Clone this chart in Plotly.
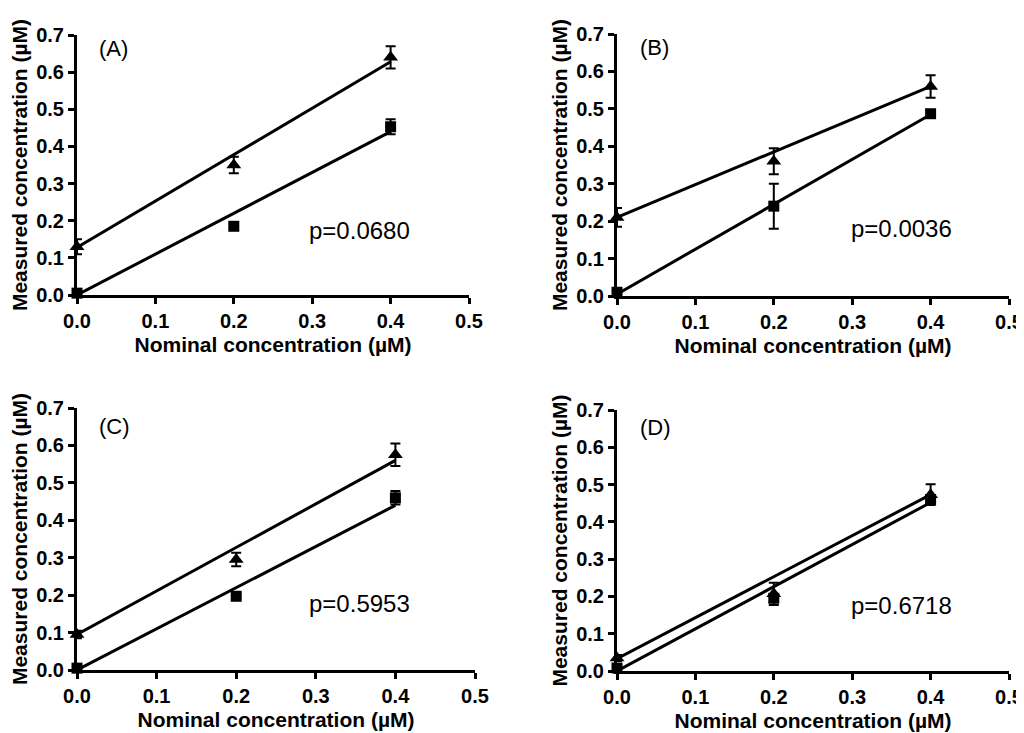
import plotly.graph_objects as go

# Nominal concentrations (µM)
nominal = [0.0, 0.2, 0.4]

panels = ["(A)", "(B)", "(C)", "(D)"]
p_values = ["p=0.0680", "p=0.0036", "p=0.5953", "p=0.6718"]

# triangles (upper series): mean and error
tri_mean = [
    [0.13, 0.35, 0.64],
    [0.21, 0.36, 0.56],
    [0.095, 0.295, 0.575],
    [0.035, 0.207, 0.473],
]
tri_err = [
    [0.02, 0.022, 0.03],
    [0.025, 0.035, 0.03],
    [0.01, 0.018, 0.03],
    [0.008, 0.03, 0.028],
]

# squares (lower series): mean and error
sq_mean = [
    [0.005, 0.185, 0.453],
    [0.01, 0.24, 0.487],
    [0.005, 0.197, 0.46],
    [0.008, 0.195, 0.46],
]
sq_err = [
    [0.005, 0.005, 0.02],
    [0.005, 0.06, 0.01],
    [0.005, 0.005, 0.018],
    [0.005, 0.01, 0.01],
]

# regression lines: intercept, slope
tri_fit = [(0.128, 1.25), (0.21, 0.875), (0.095, 1.1625), (0.033, 1.1)]
sq_fit = [(0.0, 1.1), (0.005, 1.2), (0.0, 1.1), (0.0, 1.13)]

fit_x = [0.0, 0.4]

# label positions (data coords)
label_pos = [(0.025, 0.663), (0.027, 0.665), (0.025, 0.65), (0.027, 0.654)]
p_pos = [(0.293, 0.175), (0.296, 0.179), (0.289, 0.179), (0.296, 0.177)]

W, H = 1024, 733
OFF = 8  # page body margin
# plot areas in screen pixels: x0, x1, y_top, y_bottom
boxes = [
    (77, 469, 35, 295),
    (617, 1009, 34, 296),
    (77, 475, 408, 670),
    (617, 1009, 410, 671),
]

FONT = "Liberation Sans"
tick_font = dict(family=FONT, size=20, color="black", weight="bold")
title_font = dict(family=FONT, size=21, color="black", weight="bold")

fig = go.Figure()
layout = {}

for i in range(4):
    n = "" if i == 0 else str(i + 1)
    xa, ya = "x" + n, "y" + n
    x0, x1, yt, yb = [v - OFF for v in boxes[i]]

    # fitted lines
    for (b, m) in (tri_fit[i], sq_fit[i]):
        fig.add_trace(go.Scatter(
            x=fit_x, y=[b + m * x for x in fit_x], mode="lines",
            line=dict(color="black", width=3), xaxis=xa, yaxis=ya,
            showlegend=False, hoverinfo="skip", cliponaxis=False,
        ))

    fig.add_trace(go.Scatter(
        x=nominal, y=tri_mean[i], mode="markers",
        marker=dict(symbol="triangle-up", size=13, color="black"),
        error_y=dict(type="data", array=tri_err[i], color="black", thickness=2, width=5),
        xaxis=xa, yaxis=ya, showlegend=False, cliponaxis=False,
    ))
    fig.add_trace(go.Scatter(
        x=nominal, y=sq_mean[i], mode="markers",
        marker=dict(symbol="square", size=11, color="black"),
        error_y=dict(type="data", array=sq_err[i], color="black", thickness=2, width=5),
        xaxis=xa, yaxis=ya, showlegend=False, cliponaxis=False,
    ))

    layout["xaxis" + n] = dict(
        domain=[x0 / W, x1 / W], range=[0, 0.5],
        tickvals=[0, 0.1, 0.2, 0.3, 0.4, 0.5], tickformat=".1f",
        tickprefix="<b>", ticksuffix="</b>",
        anchor=ya, tickfont=tick_font, automargin=False,
        title=dict(text="Nominal concentration (µM)", standoff=7, font=title_font),
    )
    layout["yaxis" + n] = dict(
        domain=[1 - yb / H, 1 - yt / H], range=[0, 0.7],
        tickvals=[0, 0.1, 0.2, 0.3, 0.4, 0.5, 0.6, 0.7], tickformat=".1f",
        tickprefix="<b>", ticksuffix="</b>",
        anchor=xa, tickfont=tick_font, automargin=False,
        title=dict(text="Measured concentration (µM)", standoff=3, font=title_font),
    )

    fig.add_annotation(
        x=label_pos[i][0], y=label_pos[i][1], xref=xa, yref=ya,
        text=panels[i], showarrow=False, xanchor="left", yanchor="middle",
        font=dict(family=FONT, size=22, color="black"),
    )
    fig.add_annotation(
        x=p_pos[i][0], y=p_pos[i][1], xref=xa, yref=ya,
        text=p_values[i], showarrow=False, xanchor="left", yanchor="middle",
        font=dict(family=FONT, size=24, color="black"),
    )

fig.update_layout(
    width=W, height=H,
    margin=dict(l=0, r=0, t=0, b=0),
    plot_bgcolor="white", paper_bgcolor="white",
    showlegend=False,
    **layout,
)

fig.update_xaxes(showline=True, linecolor="black", linewidth=3,
                 ticks="outside", ticklen=6, tickwidth=3, tickcolor="black",
                 showgrid=False, zeroline=False)
fig.update_yaxes(showline=True, linecolor="black", linewidth=3,
                 ticks="outside", ticklen=6, tickwidth=3, tickcolor="black",
                 showgrid=False, zeroline=False)

fig.write_html("out.html")
